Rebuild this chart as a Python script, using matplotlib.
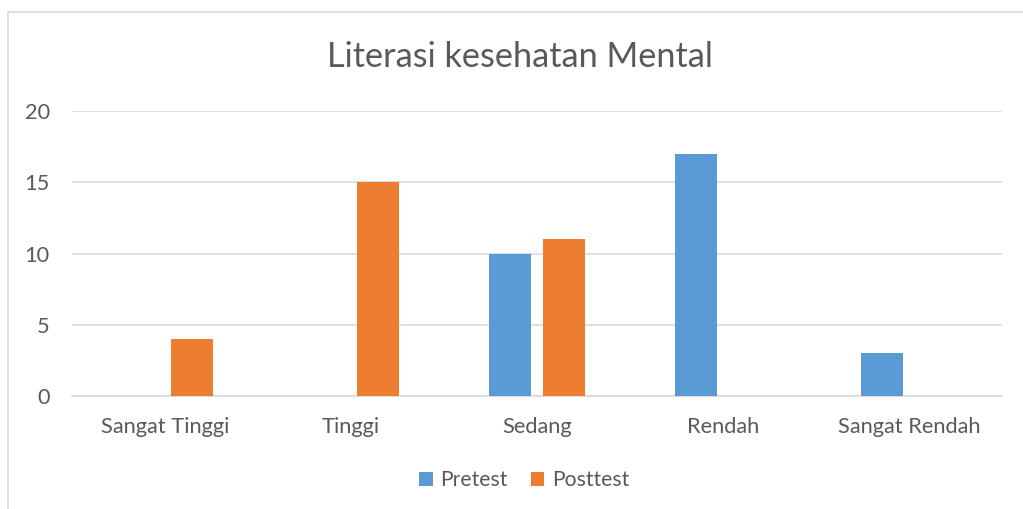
import matplotlib
matplotlib.use("Agg")
import matplotlib.pyplot as plt
import numpy as np

categories = ["Sangat Tinggi", "Tinggi", "Sedang", "Rendah", "Sangat Rendah"]
pretest = [0, 0, 10, 17, 3]
posttest = [4, 15, 11, 0, 0]

BLUE = "#5B9BD5"
ORANGE = "#ED7D31"
TEXT = "#595959"
GRID = "#D9D9D9"

plt.rcParams["font.family"] = ["Lato", "DejaVu Sans"]

fig = plt.figure(figsize=(10.23, 5.09), dpi=100)
ax = fig.add_axes([72 / 1023, 1 - 396 / 509, (1002 - 72) / 1023, (396 - 111) / 509])

x = np.arange(len(categories))
w = 0.226
off = 0.143
ax.bar(x - off, pretest, w, color=BLUE, label="Pretest", zorder=3)
ax.bar(x + off, posttest, w, color=ORANGE, label="Posttest", zorder=3)

ax.set_xlim(-0.5, len(categories) - 0.5)
ax.set_ylim(0, 20)
ax.set_yticks([0, 5, 10, 15, 20])
ax.set_xticks(x)
ax.set_xticklabels(categories)
ax.yaxis.grid(True, color=GRID, linewidth=1.2, zorder=0)
for s in ["top", "right", "left"]:
    ax.spines[s].set_visible(False)
ax.spines["bottom"].set_color(GRID)
ax.spines["bottom"].set_linewidth(1.2)
ax.tick_params(axis="both", length=0, colors=TEXT, labelsize=15.7)
ax.tick_params(axis="x", pad=15)
ax.tick_params(axis="y", pad=16)

fig.text(520 / 1023, 1 - 57 / 509, "Literasi kesehatan Mental", ha="center", va="center",
         fontsize=24.7, color=TEXT)

leg = fig.legend(loc="center", bbox_to_anchor=(524 / 1023, 1 - 480 / 509), ncol=2,
                 frameon=False, fontsize=15.2, handlelength=0.65, handleheight=0.65,
                 handletextpad=0.35, columnspacing=1.1, labelcolor=TEXT)

# outer chart frame
fig.add_artist(plt.Line2D([8 / 1023, 8 / 1023], [0, 1 - 12 / 509], color=GRID,
                          linewidth=1.2, transform=fig.transFigure))
fig.add_artist(plt.Line2D([8 / 1023, 1], [1 - 12 / 509, 1 - 12 / 509], color=GRID,
                          linewidth=1.2, transform=fig.transFigure))

fig.savefig("out.png", dpi=100)
